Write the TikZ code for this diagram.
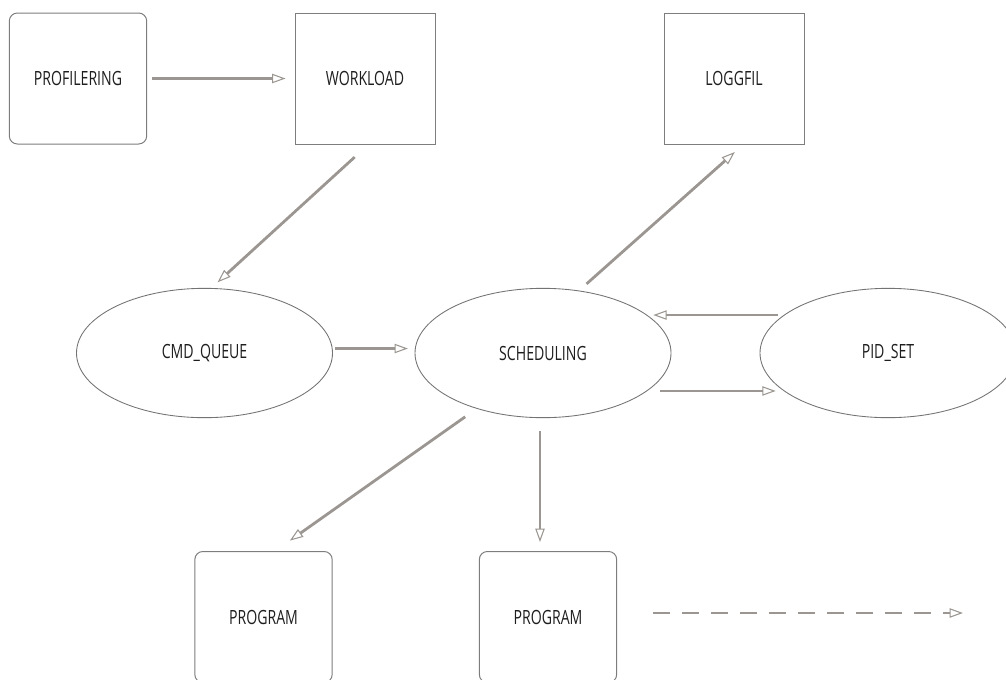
\documentclass[tikz,border=0pt]{standalone}
\usepackage{fontspec}
\setmainfont[FakeStretch=0.72]{Open Sans}
\usetikzlibrary{arrows.meta,shapes.geometric}

\begin{document}
\begin{tikzpicture}[x=0.75pt,y=0.75pt,yscale=-1,xscale=1,
  box/.style={draw={rgb, 255:red, 125; green, 125; blue, 125 }, line width=0.75pt, minimum width=105pt, minimum height=98.25pt, inner sep=0pt},
  roundbox/.style={box, rounded corners=6pt, minimum width=103pt},
  oval/.style={ellipse, draw={rgb, 255:red, 115; green, 115; blue, 115 }, line width=0.65pt, minimum width=192pt, minimum height=97pt, inner sep=0pt},
  lbl/.style={font=\fontsize{14.7pt}{17pt}\selectfont, text={rgb, 255:red, 30; green, 30; blue, 30 }},
  flow/.style={draw={rgb, 255:red, 155; green, 150; blue, 145 }, line width=2.1pt, -{Triangle[open, length=10pt, width=7pt, line width=0.8pt]}},
]
        \useasboundingbox (0,0) rectangle (1006,679);

        %Rounded Rect
        \node [roundbox, lbl] (prof) at (78,78.5) {PROFILERING};
        %Shape: Rectangle
        \node [box, lbl] (work) at (365,78.5) {WORKLOAD};
        %Shape: Rectangle
        \node [box, lbl] (log) at (734,78.5) {LOGGFIL};

        %Shape: Ellipse
        \node [oval, lbl] (cmd) at (204.5,353) {CMD\_QUEUE};
        %Shape: Ellipse
        \node [oval, lbl] (sched) at (543,353) {SCHEDULING};
        %Shape: Ellipse
        \node [oval, lbl] (pid) at (888,353) {PID\_SET};

        %Rounded Rect
        \node [roundbox, lbl] (prog1) at (263.5,617) {PROGRAM};
        %Rounded Rect
        \node [roundbox, lbl] (prog2) at (548,617) {PROGRAM};

        %Straight Lines
        \draw [flow, shorten <=3.75pt, shorten >=6.75pt] (prof.east) -- (work.west);
        \draw [flow, shorten <=14pt, shorten >=6.3pt] (work.-87) -- (cmd.84);
        \draw [flow, shorten <=7.5pt, shorten >=8.5pt] (sched.60) -- (log.-82);
        \draw [flow, shorten <=2pt, shorten >=5.25pt] (cmd.2) -- (sched.178);
        \draw [flow, shorten <=4.5pt, shorten >=4.5pt] (pid.160) -- (sched.20);
        \draw [flow, shorten <=9.75pt, shorten >=6pt] (sched.-20) -- (pid.200);
        \draw [flow, shorten <=10.5pt, shorten >=13.5pt] (sched.220) -- (prog1.80);
        \draw [flow, shorten <=9.4pt, shorten >=6.75pt] ([xshift=-2.25pt]sched.south) -- ([xshift=-2.25pt]sched.south |- prog2.north);

        %Dashed Line
        \coordinate (dashstart) at (653,613);
        \coordinate (dashend) at (963,613);
        \draw [flow, dash pattern=on 12.75pt off 9pt] (dashstart) -- (dashend);

\end{tikzpicture}
\end{document}
